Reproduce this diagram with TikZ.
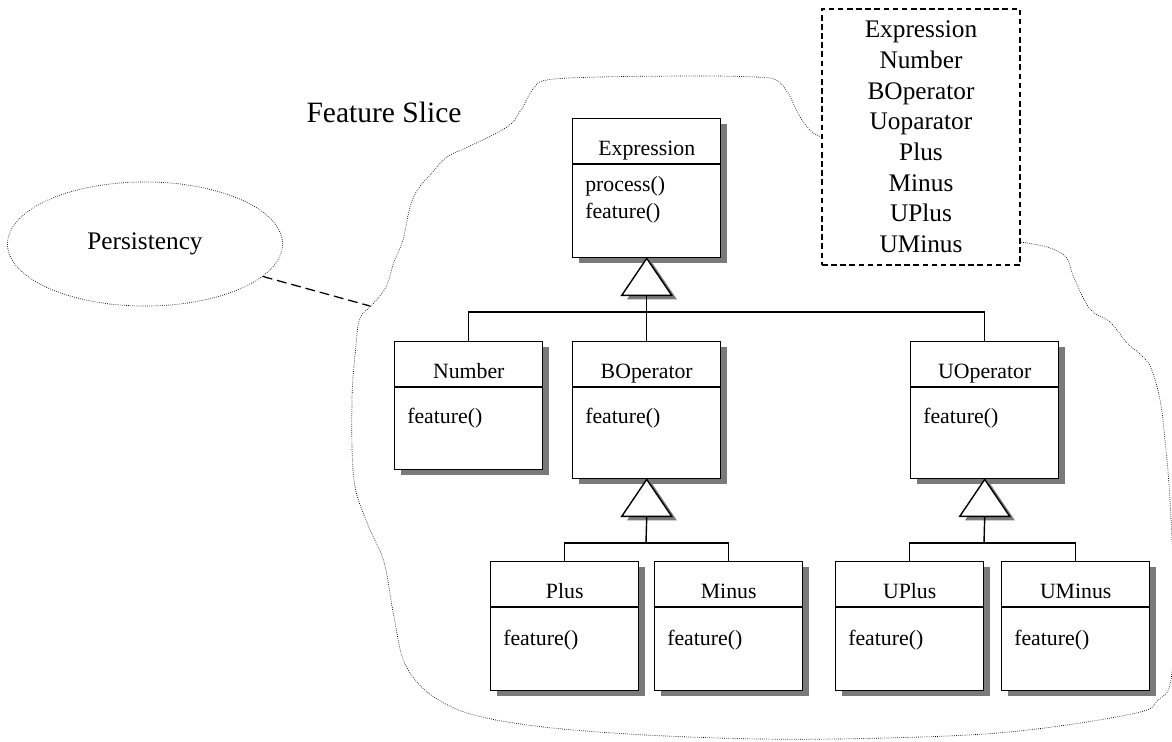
\documentclass[tikz,border=0pt]{standalone}
\usepackage{fontspec}
\setmainfont{Liberation Serif}
\usetikzlibrary{calc,shadows,shapes.geometric}
\tikzset{
  classbox/.style={draw, fill=white, line width=1pt, minimum width=3.7cm, inner sep=0pt,
    drop shadow={shadow xshift=0.15cm, shadow yshift=-0.14cm, fill=black!52, opacity=1}},
  classtext/.style={inner sep=0pt, font=\fontsize{15.5pt}{18.5pt}\selectfont},
  gentriangle/.style={draw, fill=white, line width=1pt,
    drop shadow={shadow xshift=0.13cm, shadow yshift=-0.1cm, fill=black!52, opacity=1}},
  slice/.style={densely dotted, line width=0.5pt},
  classlist/.style={draw, dashed, dash pattern=on 4pt off 2.5pt, line width=1pt, fill=white,
    minimum width=4.95cm, minimum height=6.4cm, align=center, inner sep=0pt,
    font=\fontsize{18pt}{21.8pt}\selectfont},
  aspect/.style={draw, ellipse, densely dotted, line width=0.5pt, minimum width=6.875cm,
    minimum height=3.1cm, inner sep=0pt, font=\fontsize{18pt}{21pt}\selectfont},
  link/.style={dashed, dash pattern=on 7pt off 3.5pt, line width=0.9pt}
}
% #1 name, #2 top left, #3 height : baseline of last operation, #5 title, #6 operations
\def\umlclass(#1)(#2)[#3:#4]#5#6{
  \node[classbox, minimum height=#3*0.025cm, anchor=north west] (#1) at (#2) {};
  \draw[line width=1pt] ($(#1.north west)+(0,46)$) -- ($(#1.north east)+(0,46)$);
  \node[classtext, anchor=base] (#1-name) at ($(#1.north)+(0,37)$) {#5};
  \node[classtext, anchor=base west, align=left] (#1-ops) at ($(#1.north west)+(13,#4)$) {#6};
}
\def\gentri(#1)(#2){
  \draw[gentriangle] (#1) -- ++(-25,37) -- ++(50,0) -- cycle;
  \coordinate (#2) at ($(#1)+(0,37)$);
}
\begin{document}
\begin{tikzpicture}[x=0.025cm, y=-0.025cm]
  %%%%% START %%%%%
  \useasboundingbox (0,0) rectangle (1172,742);

  % the slice outline
  \draw[slice] plot[smooth, tension=0.6] coordinates {
    (822,137) (812,132) (800,117) (788,93) (776,80) (755,77) (700,76) (600,77)
    (547,80) (533,89) (521,110) (507,127) (470,146) (447,157) (431,174) (418,189)
    (410,207) (403,240) (394,262) (386,287) (372,305) (360,318) (356,345) (352,400)
    (354,480) (368,525) (384,562) (394,617) (406,666) (437,699) (491,719) (598,732)
    (760,739) (921,737) (1028,730) (1136,713) (1158,700) (1171,680) (1174,600)
    (1170,500) (1165,440) (1160,400) (1151,368) (1140,354) (1127,343) (1110,322)
    (1090,309) (1074,278) (1066,257) (1047,247) (1020,242)};
  \node[inner sep=0pt, anchor=base, font=\fontsize{21pt}{24pt}\selectfont] (slicetitle) at (384,122) {Feature Slice};

  \node[classlist] (featurelist) at (921,137)
    {Expression\\Number\\BOperator\\Uoparator\\Plus\\Minus\\UPlus\\UMinus};

  \node[aspect] (persistency) at (145,244) {Persistency};
  \coordinate (sliceedge) at (370,306);
  \draw[link] (persistency) -- (sliceedge);

  % classes
  \umlclass(expr)(572,118)[139:100]{Expression}{process()\\feature()}
  \umlclass(number)(394,341)[128:82]{Number}{feature()}
  \umlclass(bop)(572,341)[137:82]{BOperator}{feature()}
  \umlclass(uop)(910,341)[137:82]{UOperator}{feature()}
  \umlclass(plus)(490,561)[129:84]{Plus}{feature()}
  \umlclass(minus)(654,561)[129:84]{Minus}{feature()}
  \umlclass(uplus)(835,561)[129:84]{UPlus}{feature()}
  \umlclass(uminus)(1001,561)[129:84]{UMinus}{feature()}

  % inheritance
  \gentri(expr.south)(exprtri)
  \gentri(bop.south)(boptri)
  \gentri(uop.south)(uoptri)
  \coordinate (exprbar) at (646,312);
  \coordinate (bopbar) at (646,543);
  \coordinate (uopbar) at (984,543);

  \draw[line width=1pt] (exprtri) -- (bop.north);
  \draw[line width=1pt] (number.north) |- (exprbar) -| (uop.north);
  \draw[line width=1pt] (boptri) -- (bopbar);
  \draw[line width=1pt] (plus.north) |- (bopbar) -| (minus.north);
  \draw[line width=1pt] (uoptri) -- (uopbar);
  \draw[line width=1pt] (uplus.north) |- (uopbar) -| (uminus.north);
  %%%%% END %%%%%
\end{tikzpicture}
\end{document}
